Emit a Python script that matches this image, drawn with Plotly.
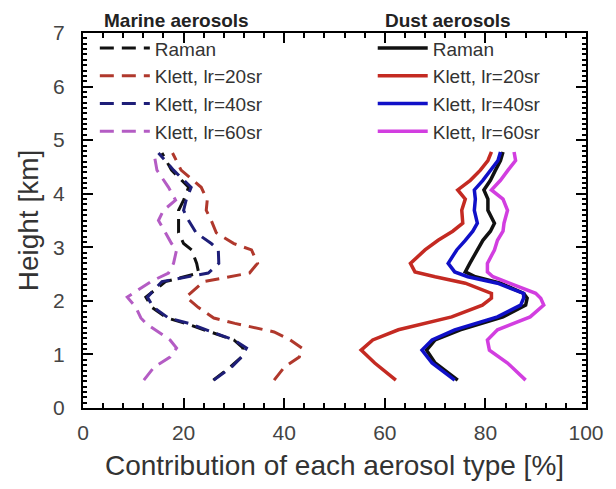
import plotly.graph_objects as go

# ---- Data ----
# Marine aerosols (dashed)
mar_h = [0.52, 0.76, 0.95, 1.12, 1.27, 1.42, 1.58, 1.68, 1.88, 2.07, 2.36, 2.52, 2.70, 2.95,
         3.07, 3.27, 3.50, 3.69, 3.88, 4.12, 4.44, 4.76]
mar_raman = [25.9, 29.2, 31.5, 31.8, 30.0, 25.5, 20.3, 16.7, 13.7, 12.5, 16.4, 23.0, 22.6, 21.6,
             20.0, 19.0, 19.0, 19.0, 20.0, 21.0, 17.6, 15.7]
mar_k20 = [38.0, 40.0, 43.0, 43.5, 41.2, 38.0, 30.2, 26.0, 22.9, 20.5, 24.0, 33.1, 34.7, 33.5,
           30.0, 26.5, 25.5, 24.5, 24.7, 23.5, 19.5, 17.8]
mar_k40 = [26.0, 29.5, 31.5, 32.5, 30.0, 25.5, 21.0, 17.0, 14.0, 12.8, 15.7, 24.9, 27.0, 26.9,
           25.5, 22.5, 21.0, 20.0, 20.5, 21.5, 18.0, 15.0]
mar_k60 = [12.1, 14.1, 17.3, 18.6, 17.3, 15.0, 12.5, 11.5, 10.5, 8.8, 13.5, 17.0, 18.0, 18.6,
           17.6, 16.4, 15.0, 16.0, 18.4, 17.0, 14.7, 14.1]

# Dust aerosols (solid)
dust_h = [0.52, 0.84, 1.08, 1.27, 1.46, 1.70, 1.92, 2.05, 2.14, 2.33, 2.45, 2.54, 2.70, 2.95,
          3.13, 3.30, 3.45, 3.69, 3.90, 4.07, 4.25, 4.44, 4.62, 4.78]
dust_raman = [74.5, 70.0, 68.3, 70.0, 75.0, 83.5, 88.0, 88.3, 87.6, 83.0, 78.0, 76.0, 76.9, 78.4,
              79.5, 81.0, 81.8, 80.5, 80.5, 79.7, 81.0, 82.0, 83.0, 83.5]
dust_k20 = [62.2, 58.0, 55.3, 57.6, 62.7, 73.3, 79.4, 81.2, 81.2, 76.0, 70.0, 66.0, 65.1, 68.0,
            70.6, 73.5, 75.5, 75.3, 76.0, 74.5, 77.0, 79.0, 80.5, 81.2]
dust_k40 = [73.9, 69.4, 67.4, 69.4, 73.9, 82.4, 87.0, 87.6, 87.6, 82.4, 76.5, 73.9, 72.6, 74.3,
            76.0, 77.5, 78.4, 77.8, 78.0, 77.8, 79.5, 81.0, 82.5, 83.0]
dust_k60 = [88.0, 84.4, 80.8, 80.4, 82.4, 88.9, 91.6, 91.0, 90.0, 85.0, 81.5, 80.4, 80.4, 81.8,
            82.4, 83.5, 83.7, 84.4, 83.5, 81.2, 83.0, 84.5, 86.0, 85.7]

labels = ["Raman", "Klett, lr=20sr", "Klett, lr=40sr", "Klett, lr=60sr"]
group_titles = ["Marine aerosols", "Dust aerosols"]
mar_colors = ["#111111", "#b0382c", "#1e1e78", "#b45cc4"]
dust_colors = ["#111111", "#c42a22", "#1010c8", "#d23ee0"]

fig = go.Figure()

for i, (vals, col) in enumerate(zip([mar_raman, mar_k20, mar_k40, mar_k60], mar_colors)):
    fig.add_trace(go.Scatter(
        x=vals, y=mar_h, mode="lines", name=labels[i],
        line=dict(color=col, width=3, dash="14px,8px"),
        legend="legend"))

for i, (vals, col) in enumerate(zip([dust_raman, dust_k20, dust_k40, dust_k60], dust_colors)):
    fig.add_trace(go.Scatter(
        x=vals, y=dust_h, mode="lines", name=labels[i],
        line=dict(color=col, width=3.5),
        legend="legend2"))

font_fam = "Liberation Sans, Arial, sans-serif"

leg_common = dict(
    yanchor="top", xanchor="left", y=1.01,
    bgcolor="rgba(0,0,0,0)", itemwidth=50, tracegroupgap=0,
    font=dict(size=19, color="#333333"),
)

fig.update_layout(
    width=616, height=489,
    margin=dict(l=83, r=23, t=33, b=81),
    paper_bgcolor="white", plot_bgcolor="white",
    font=dict(family=font_fam, color="#333333"),
    showlegend=True,
    legend=dict(leg_common, x=0.0235),
    legend2=dict(leg_common, x=0.576),
    annotations=[
        dict(text=f"<b>{group_titles[0]}</b>", x=0.037, y=1.032, xref="paper", yref="paper",
             xanchor="left", yanchor="middle", showarrow=False,
             font=dict(size=19, color="#222222")),
        dict(text=f"<b>{group_titles[1]}</b>", x=0.596, y=1.032, xref="paper", yref="paper",
             xanchor="left", yanchor="middle", showarrow=False,
             font=dict(size=19, color="#222222")),
    ],
    xaxis=dict(
        range=[0, 100], tickmode="linear", tick0=0, dtick=20,
        ticks="inside", ticklen=10, tickwidth=1.5, tickcolor="black",
        showline=True, linecolor="black", linewidth=2, mirror="ticks",
        showgrid=False, zeroline=False, ticklabelstandoff=5,
        tickfont=dict(size=21, color="#444444"),
        title=dict(text="Contribution of each aerosol type [%]",
                   font=dict(size=28, color="#333333"), standoff=12),
        minor=dict(dtick=4, ticks="inside", ticklen=5, tickcolor="black", showgrid=False),
    ),
    yaxis=dict(
        range=[0, 7], tickmode="linear", tick0=0, dtick=1,
        ticks="inside", ticklen=10, tickwidth=1.5, tickcolor="black",
        showline=True, linecolor="black", linewidth=2, mirror="ticks",
        showgrid=False, zeroline=False, ticklabelstandoff=12,
        tickfont=dict(size=21, color="#444444"),
        title=dict(text="Height [km]", font=dict(size=28, color="#333333"), standoff=6),
        minor=dict(dtick=0.1, ticks="inside", ticklen=4, tickcolor="black", showgrid=False),
    ),
)

fig.write_html("out.html")
